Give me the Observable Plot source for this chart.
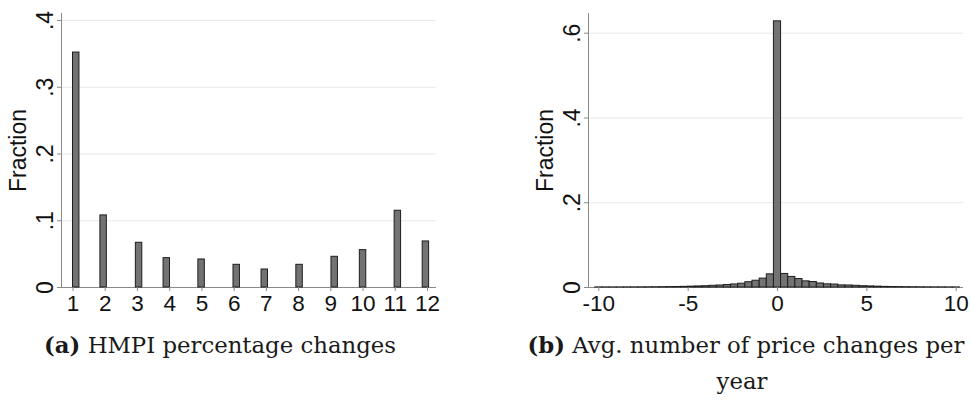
<!DOCTYPE html>
<html><head><meta charset="utf-8">
<script src="https://cdn.jsdelivr.net/npm/d3@7"></script>
<script src="https://cdn.jsdelivr.net/npm/@observablehq/plot@0.6"></script>
<style>
body{margin:0;background:#fff;}
#wrap{position:relative;width:971px;height:407px;overflow:hidden;background:#fff;}
#left{position:absolute;left:0;top:0;}
#right{position:absolute;left:485px;top:0;}
.cap{position:absolute;font-family:"DejaVu Serif",serif;font-size:22.8px;white-space:nowrap;color:#1a1a1a;transform:translateX(-50%);line-height:1;}
svg{overflow:visible;}
</style></head><body>
<div id="wrap">
<div id="left"></div><div id="right"></div>
<div class="cap" id="capA" style="left:220px;top:334px"><b>(a)</b> HMPI percentage changes</div>
<div class="cap" id="capB" style="left:746px;top:334px"><b>(b)</b> Avg. number of price changes per</div>
<div class="cap" id="capB2" style="left:742px;top:370px">year</div>
</div>
<script>
// Panel (a): HMPI percentage changes
const hmpiBinLo = [1.00, 1.85, 2.95, 3.81, 4.89, 5.98, 6.85, 7.93, 9.02, 9.90, 10.98, 11.85];
const hmpiFraction = [0.352, 0.108, 0.067, 0.044, 0.042, 0.034, 0.027, 0.034, 0.046, 0.056, 0.115, 0.069];
const hmpiXTicks = [1, 2, 3, 4, 5, 6, 7, 8, 9, 10, 11, 12];
const hmpiYTicks = [0, 0.1, 0.2, 0.3, 0.4];

// Panel (b): Avg. number of price changes per year
const priceBinCenter = [-10, -9.6, -9.2, -8.8, -8.4, -8, -7.6, -7.2, -6.8, -6.4, -6, -5.6, -5.2, -4.8, -4.4, -4, -3.6, -3.2, -2.8, -2.4, -2, -1.6, -1.2, -0.8, -0.4,
  0, 0.4, 0.8, 1.2, 1.6, 2, 2.4, 2.8, 3.2, 3.6, 4, 4.4, 4.8, 5.2, 5.6, 6, 6.4, 6.8, 7.2, 7.6, 8, 8.4, 8.8, 9.2, 9.6, 10];
const priceFraction = [0.0002, 0.0002, 0.0002, 0.0002, 0.0003, 0.0003, 0.0004, 0.0005, 0.0006, 0.0008, 0.0010, 0.0012, 0.0015, 0.0020, 0.0025, 0.0030, 0.0040, 0.0047, 0.0058, 0.0072, 0.0090, 0.0125, 0.0160, 0.0210, 0.0310,
  0.628, 0.0320, 0.0250, 0.0200, 0.0145, 0.0130, 0.0095, 0.0075, 0.0070, 0.0050, 0.0047, 0.0040, 0.0030, 0.0025, 0.0020, 0.0015, 0.0012, 0.0010, 0.0008, 0.0006, 0.0005, 0.0004, 0.0003, 0.0003, 0.0002, 0.0002];
const priceXTicks = [-10, -5, 0, 5, 10];
const priceYTicks = [0, 0.2, 0.4, 0.6];

const yLabel = "Fraction";

const fmtY = d => d === 0 ? "0" : d3.format(".1f")(d).replace(/^0/, "");
const fmtX = d => String(d);
const barFill = "#737373", barStroke = "#1e1e1e", gridColor = "#e8e8e8", axisColor = "#8a8a8a", textColor = "#111";
const baseStyle = {fontFamily: "'Liberation Sans', Arial, sans-serif", fontSize: "21px", color: textColor, background: "white", overflow: "visible"};

function panel({data, xDom, yDom, xTicks, yTicks, width, marginLeft, marginRight}) {
  return Plot.plot({
    width, height: 320,
    marginLeft, marginRight, marginTop: 13, marginBottom: 33,
    x: {domain: xDom},
    y: {domain: yDom},
    style: baseStyle,
    marks: [
      Plot.gridY(yTicks, {stroke: gridColor, strokeOpacity: 1}),
      Plot.ruleX([xDom[0]], {stroke: axisColor}),
      Plot.ruleY([0], {stroke: axisColor}),
      Plot.rectY(data, {x1: "lo", x2: "hi", y1: 0, y2: "f", fill: barFill, stroke: barStroke, strokeWidth: 1}),
      Plot.axisX(xTicks, {tickSize: 4, tickPadding: 4, stroke: axisColor, fill: textColor, tickFormat: fmtX, fontSize: 22.5, label: null}),
      Plot.axisY(yTicks, {tickSize: 4, tickPadding: 5, tickRotate: -90, tickFormat: fmtY, stroke: axisColor, fill: textColor, fontSize: 23, label: null}),
      Plot.text([yLabel], {text: d => d, frameAnchor: "left", textAnchor: "middle", rotate: -90, dx: -43, fontSize: 23, fill: textColor})
    ]
  });
}

const hmpiW = 0.2;
const hmpi = hmpiBinLo.map((lo, i) => ({lo, hi: lo + hmpiW, f: hmpiFraction[i]}));
document.getElementById("left").appendChild(panel({
  data: hmpi, xDom: [0.643, 12.279], yDom: [0, 0.4105], xTicks: hmpiXTicks, yTicks: hmpiYTicks,
  width: 485, marginLeft: 61, marginRight: 49
}));

const priceW = 0.4;
const price = priceBinCenter.map((c, i) => ({lo: c - priceW / 2, hi: c + priceW / 2, f: priceFraction[i]}));
document.getElementById("right").appendChild(panel({
  data: price, xDom: [-10.576, 10.408], yDom: [0, 0.6465], xTicks: priceXTicks, yTicks: priceYTicks,
  width: 486, marginLeft: 103, marginRight: 8
}));
</script>
</body></html>
